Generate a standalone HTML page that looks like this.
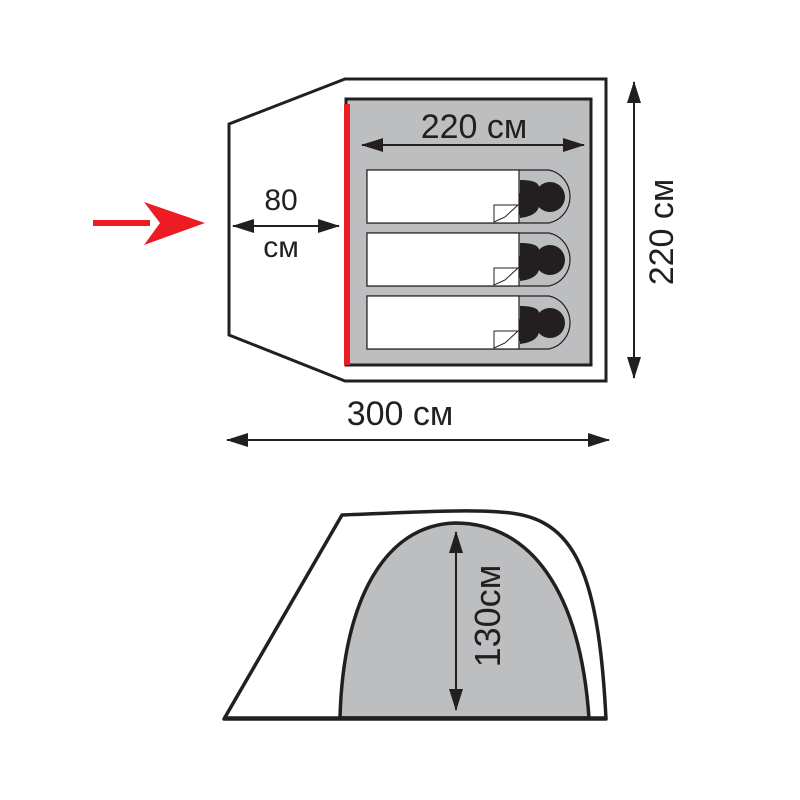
<!DOCTYPE html>
<html><head><style>body{margin:0;background:#fff}svg{display:block}</style></head><body>
<svg width="800" height="800" viewBox="0 0 800 800" xmlns="http://www.w3.org/2000/svg" font-family="Liberation Sans, Arial, sans-serif">
<defs>
<marker id="ah2" markerWidth="22" markerHeight="14" refX="21" refY="7" orient="auto-start-reverse" markerUnits="userSpaceOnUse"><path d="M0,0 L22,7 L0,14 Z" fill="#231f20"/></marker>
</defs>
<polygon points="229,124 345,79 606,79 606,381 345,381 229,335" fill="#fff" stroke="#231f20" stroke-width="3"/>
<rect x="346" y="99" width="245" height="266" fill="#bcbec0" stroke="#231f20" stroke-width="3"/>
<line x1="347" y1="104" x2="347" y2="365" stroke="#ed1c24" stroke-width="6"/>
<line x1="362" y1="145" x2="584" y2="145" stroke="#231f20" stroke-width="2" marker-start="url(#ah2)" marker-end="url(#ah2)"/>
<text x="474" y="138" font-size="34" text-anchor="middle" fill="#231f20">220 см</text>
<g id="mat">
<path d="M367,170 H549 A26,27 0 0 1 549,223 H367 Z" fill="#bcbec0" stroke="#231f20" stroke-width="1.2"/>
<path d="M520,180 C545,180 540,190 535,195 C540,200 545,215 520,218 Z" fill="#231f20"/>
<path d="M523,185 C538,185 542,192 548,195 L548,200 C540,203 535,215 503,218 L515,205 Z" fill="#231f20"/>
<circle cx="550" cy="197" r="15" fill="#231f20"/>
<rect x="367" y="170" width="152" height="53" fill="#fff" stroke="#231f20" stroke-width="1.2"/>
<path d="M494,205 H518 L505,217 L494,222 Z" fill="#fff" stroke="#231f20" stroke-width="1"/>
</g>
<use href="#mat" y="63"/>
<use href="#mat" y="126"/>
<line x1="233" y1="226" x2="339" y2="226" stroke="#231f20" stroke-width="2" marker-start="url(#ah2)" marker-end="url(#ah2)"/>
<text x="281" y="210" font-size="30" text-anchor="middle" fill="#231f20">80</text>
<text x="281" y="257" font-size="30" text-anchor="middle" fill="#231f20">см</text>
<line x1="93" y1="223" x2="150" y2="223" stroke="#ed1c24" stroke-width="6"/>
<polygon points="144,202 205,223 144,245 160,223" fill="#ed1c24"/>
<line x1="634" y1="82" x2="634" y2="378" stroke="#231f20" stroke-width="2" marker-start="url(#ah2)" marker-end="url(#ah2)"/>
<text transform="translate(673,232) rotate(-90)" font-size="34" text-anchor="middle" fill="#231f20">220 см</text>
<line x1="227" y1="440" x2="609" y2="440" stroke="#231f20" stroke-width="2" marker-start="url(#ah2)" marker-end="url(#ah2)"/>
<text x="400" y="425" font-size="34" text-anchor="middle" fill="#231f20">300 см</text>
<path d="M224,719 L342,515 C400,513 460,509 500,512 C570,516 598,560 606,719 Z" fill="#fff" stroke="#231f20" stroke-width="3.5" stroke-linejoin="round"/>
<path d="M340,718 C343,600 385,525 455,523 C530,523 580,590 589,718 Z" fill="#bcbec0" stroke="#231f20" stroke-width="3.5"/>
<line x1="224" y1="718" x2="606" y2="718" stroke="#231f20" stroke-width="3.5"/>
<line x1="456" y1="532" x2="456" y2="710" stroke="#231f20" stroke-width="2" marker-start="url(#ah2)" marker-end="url(#ah2)"/>
<text transform="translate(500,616) rotate(-90)" font-size="36" text-anchor="middle" fill="#231f20">130см</text>
</svg>
</body></html>
